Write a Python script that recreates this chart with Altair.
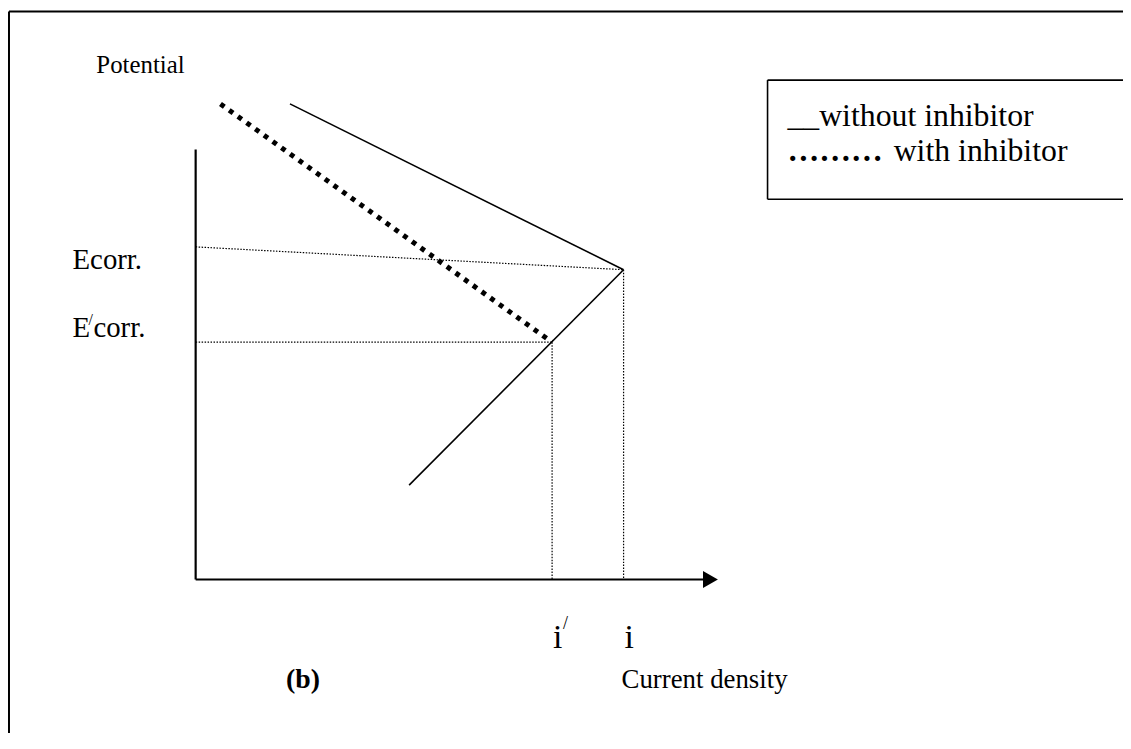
import altair as alt
import pandas as pd

# ---- diagram coordinates: x = current density (0 at the potential axis),
#      y = potential (0 at the current-density axis), arbitrary units ----
X_DOMAIN = [-189, 934]
Y_DOMAIN = [-152, 573]

# axes extent
axis_x_end = 511          # end of current-density axis (arrow follows)
axis_y_top = 433          # top of potential axis
arrow_x = 518.5

# without inhibitor: anodic and cathodic branches meeting at (i, Ecorr)
without_start_x = [95, 215]
without_start_y = [479, 95]
i_corr = 431
E_corr = 312
ecorr_guide_start_y = 335   # guide line from the potential axis to (i, Ecorr)

# with inhibitor: branch meeting the cathodic line at (i', E'corr)
with_start_x = [25]
with_start_y = [479]
i_corr_inh = 359
E_corr_inh = 239

# legend box (diagram units)
legend_left = 576
legend_bottom = 383
legend_top = 503

# outer frame
frame_x = -188
frame_y = 572

FONT = "Liberation Serif"

xs = alt.Scale(domain=X_DOMAIN, nice=False, zero=False)
ys = alt.Scale(domain=Y_DOMAIN, nice=False, zero=False)


def X(f):
    return alt.X(f, type="quantitative", scale=xs, axis=None)


def Y(f):
    return alt.Y(f, type="quantitative", scale=ys, axis=None)


def segs(x0, y0, x1, y1):
    return pd.DataFrame({"x0": x0, "y0": y0, "x1": x1, "y1": y1})


def seg_layer(df, **kw):
    return alt.Chart(df).mark_rule(**kw).encode(
        x=X("x0"), y=Y("y0"), x2="x1", y2="y1")


def text_layer(t, x, y, size, weight="normal"):
    df = pd.DataFrame({"x": [x], "y": [y], "t": [t]})
    return alt.Chart(df).mark_text(
        align="left", baseline="alphabetic", font=FONT,
        fontSize=size, fontWeight=weight, color="black",
    ).encode(x=X("x"), y=Y("y"), text="t:N")


# solid: without inhibitor
solid = seg_layer(
    segs(without_start_x, without_start_y, [i_corr] * 2, [E_corr] * 2),
    color="black", strokeWidth=1.6)

# thick dotted: with inhibitor
thick_dot = seg_layer(
    segs(with_start_x, with_start_y, [i_corr_inh], [E_corr_inh]),
    color="black", strokeWidth=5, strokeDash=[4.8, 6], strokeCap="butt")

# thin dotted guides
guides = seg_layer(
    segs([0, 0, i_corr_inh, i_corr],
         [ecorr_guide_start_y, E_corr_inh, E_corr_inh, E_corr],
         [i_corr, i_corr_inh, i_corr_inh, i_corr],
         [E_corr, E_corr_inh, 0, 0]),
    color="black", strokeWidth=1.2, strokeDash=[1.5, 1.5])

# axes
axes = seg_layer(
    segs([0, 0], [0, 0], [0, axis_x_end], [axis_y_top, 0]),
    color="black", strokeWidth=2.2)

arrow = alt.Chart(pd.DataFrame({"x": [arrow_x], "y": [0]})).mark_point(
    shape="M -1 -1.13 L 1 0 L -1 1.13 Z", size=225, filled=True,
    color="black", opacity=1, strokeWidth=0,
).encode(x=X("x"), y=Y("y"))

# legend box (right side runs off the picture)
legend_box = seg_layer(
    segs([legend_left, legend_left, legend_left],
         [legend_bottom, legend_top, legend_bottom],
         [legend_left, X_DOMAIN[1] + 10, X_DOMAIN[1] + 10],
         [legend_top, legend_top, legend_bottom]),
    color="black", strokeWidth=1.6)

# outer frame (left and top edges)
frame = seg_layer(
    segs([frame_x, frame_x], [Y_DOMAIN[0] - 10, frame_y],
         [frame_x, X_DOMAIN[1] + 10], [frame_y, frame_y]),
    color="black", strokeWidth=2)

texts = [
    text_layer("Potential", -100, 510, 25),
    text_layer("Ecorr.", -124, 313, 29),
    text_layer("E", -124, 244, 29),
    text_layer("/", -108, 256, 16),
    text_layer("corr.", -103, 244, 29),
    text_layer("i", 360, -69, 34),
    text_layer("/", 370, -50, 18),
    text_layer("i", 432, -69, 34),
    text_layer("(b)", 91, -109, 28, "bold"),
    text_layer("Current density", 429, -109, 27),
    text_layer("__without inhibitor", 596, 457, 32),
    text_layer("\u2026\u2026\u2026", 596, 421, 32, "bold"),
    text_layer("with inhibitor", 703, 421, 32),
]

chart = alt.layer(
    frame, legend_box, guides, axes, arrow, solid, thick_dot, *texts
).properties(
    width=1123, height=725, padding=0,
    autosize=alt.AutoSizeParams(type="none"),
    background="white",
).configure_view(stroke=None)

chart.save("out.html", embed_options={"renderer": "svg", "actions": False})
